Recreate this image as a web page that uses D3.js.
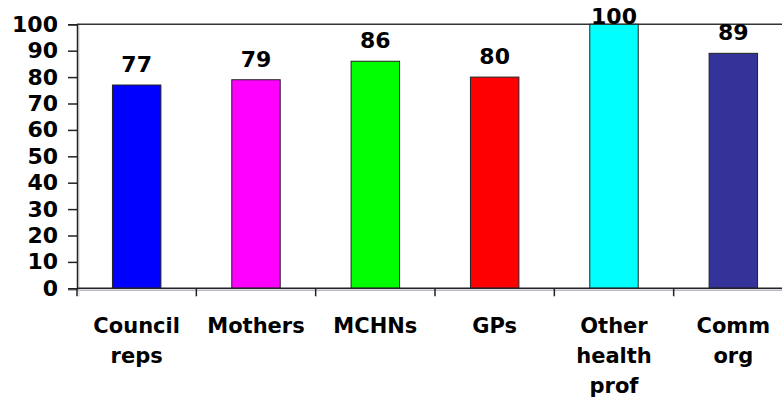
<!DOCTYPE html>
<html>
<head>
<meta charset="utf-8">
<script src="https://cdn.jsdelivr.net/npm/d3@7"></script>
<style>
  html, body { margin: 0; padding: 0; background: #fff; }
  svg text { font-family: "DejaVu Sans", Verdana, sans-serif; font-weight: bold; fill: #000; }
</style>
</head>
<body>
<svg id="chart" width="782" height="401"></svg>
<script>
const categories = ["Council reps", "Mothers", "MCHNs", "GPs", "Other health prof", "Comm org"];
const values = [77, 79, 86, 80, 100, 89];
const colors = ["#0000FF", "#FF00FF", "#00FF00", "#FF0000", "#00FFFF", "#333399"];
const yTicks = [0, 10, 20, 30, 40, 50, 60, 70, 80, 90, 100];

(function () {
const svg = d3.select("#chart");
const mLeft = 77, mRight = 793, mTop = 24.3, mBottom = 288.3;

const xSlot = d3.scaleBand().domain(categories).range([mLeft, mRight]).padding(0);
const x = d3.scaleBand().domain(categories).range([mLeft, mRight])
  .paddingInner(0.594).paddingOuter(0.297);
const y = d3.scaleLinear().domain([0, 100]).range([mBottom, mTop]);

// shadows
svg.append("line").attr("x1", mLeft - 9).attr("x2", mRight).attr("y1", mBottom + 2).attr("y2", mBottom + 2)
  .attr("stroke", "#b8b8c8").attr("stroke-width", 1.5);
svg.append("line").attr("x1", mLeft + 2).attr("x2", mLeft + 2).attr("y1", mTop).attr("y2", mBottom + 8)
  .attr("stroke", "#d0d0dc").attr("stroke-width", 1);

// top border
svg.append("line").attr("x1", mLeft).attr("x2", mRight).attr("y1", mTop).attr("y2", mTop)
  .attr("stroke", "#333").attr("stroke-width", 1.5);

// bars
svg.selectAll("rect.bar").data(categories).enter().append("rect")
  .attr("class", "bar")
  .attr("x", d => x(d))
  .attr("width", x.bandwidth())
  .attr("y", (d, i) => y(values[i]))
  .attr("height", (d, i) => y(0) - y(values[i]))
  .attr("fill", (d, i) => colors[i])
  .attr("stroke", "#222").attr("stroke-width", 1);

// y axis
const yAxis = d3.axisLeft(y).tickValues(yTicks).tickSize(9).tickPadding(10);
const gy = svg.append("g").attr("transform", `translate(${mLeft},0)`).call(yAxis);
gy.select(".domain").attr("stroke", "#222").attr("stroke-width", 1.5);
gy.selectAll(".tick line").attr("stroke", "#222").attr("stroke-width", 1.5);
gy.selectAll(".tick text").style("font-size", "22px").style("font-family", "DejaVu Sans, Verdana, sans-serif")
  .style("font-weight", "bold").attr("fill", "#000");

// x axis line + ticks at slot boundaries
svg.append("line").attr("x1", mLeft).attr("x2", mRight).attr("y1", mBottom).attr("y2", mBottom)
  .attr("stroke", "#222").attr("stroke-width", 1.5);
const boundaries = categories.map(d => xSlot(d)).concat([mRight]);
svg.selectAll("line.xtick").data(boundaries).enter().append("line")
  .attr("class", "xtick")
  .attr("x1", d => d).attr("x2", d => d)
  .attr("y1", mBottom).attr("y2", mBottom + 8)
  .attr("stroke", "#222").attr("stroke-width", 1.5);

// x labels
const xl = svg.selectAll("text.xlab").data(categories).enter().append("text")
  .attr("class", "xlab")
  .attr("text-anchor", "middle")
  .style("font-size", "21px");
xl.each(function (d) {
  const t = d3.select(this);
  d.split(" ").forEach((w, j) => {
    t.append("tspan").attr("x", xSlot(d) + xSlot.bandwidth() / 2)
      .attr("y", 333 + j * 30).text(w);
  });
});

// value labels
svg.selectAll("text.val").data(categories).enter().append("text")
  .attr("class", "val")
  .attr("text-anchor", "middle")
  .style("font-size", "22px")
  .attr("x", d => x(d) + x.bandwidth() / 2)
  .attr("y", (d, i) => Math.max(y(values[i]) - 13, 24))
  .text((d, i) => values[i]);
})();
</script>
</body>
</html>
